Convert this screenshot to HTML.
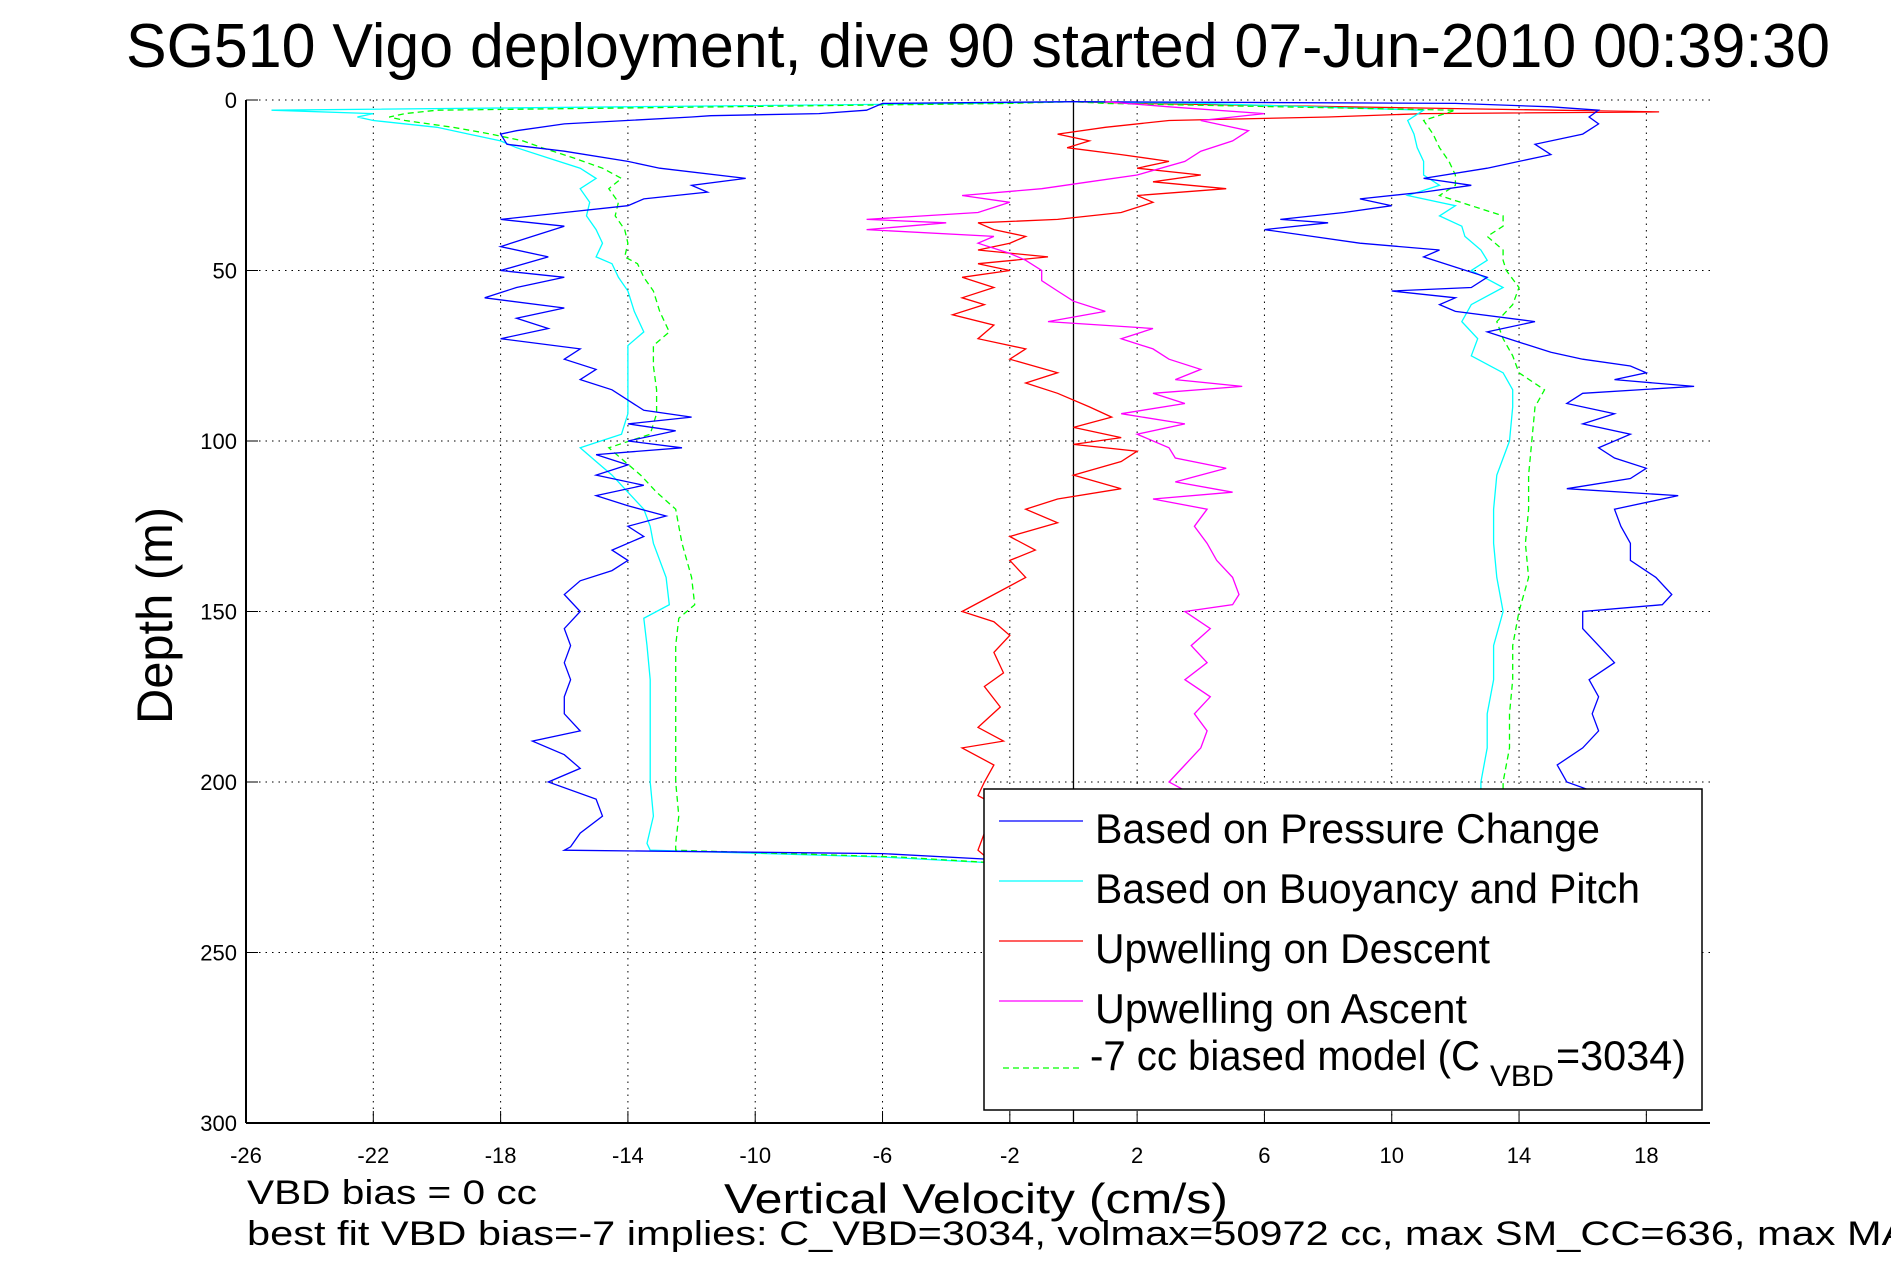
<!DOCTYPE html>
<html><head><meta charset="utf-8"><style>
html,body{margin:0;padding:0;background:#fff;}
svg{display:block;font-family:"Liberation Sans",sans-serif;}
</style></head>
<body>
<svg id="chart" width="1891" height="1262" viewBox="0 0 1891 1262" xmlns="http://www.w3.org/2000/svg">
<rect width="1891" height="1262" fill="#fff"/>
<text x="126" y="67" font-size="62" textLength="1704" lengthAdjust="spacingAndGlyphs">SG510 Vigo deployment, dive 90 started 07-Jun-2010 00:39:30</text>
<g id="grid"></g>
<g id="series" clip-path="url(#clip)"></g>
<defs><clipPath id="clip"><rect x="246" y="100" width="1464" height="1023"/></clipPath></defs>
<g id="axes"></g>
<text transform="translate(172,724) rotate(-90)" font-size="50" textLength="217" lengthAdjust="spacingAndGlyphs">Depth (m)</text>
<text x="724" y="1213" font-size="42" textLength="504" lengthAdjust="spacingAndGlyphs">Vertical Velocity (cm/s)</text>
<text x="247" y="1204" font-size="34" textLength="290" lengthAdjust="spacingAndGlyphs">VBD bias = 0 cc</text>
<text x="247" y="1245" font-size="34" textLength="1690" lengthAdjust="spacingAndGlyphs">best fit VBD bias=-7 implies: C_VBD=3034, volmax=50972 cc, max SM_CC=636, max MAX</text>
<g id="legend">
<rect x="984" y="789" width="718" height="321" fill="#fff" stroke="#000" stroke-width="1.5"/>
<line x1="999" y1="821" x2="1083" y2="821" stroke="#0000ff" stroke-width="1.3"/>
<text x="1095" y="843" font-size="42" textLength="505" lengthAdjust="spacingAndGlyphs">Based on Pressure Change</text>
<line x1="999" y1="881" x2="1083" y2="881" stroke="#00ffff" stroke-width="1.3"/>
<text x="1095" y="903" font-size="42" textLength="545" lengthAdjust="spacingAndGlyphs">Based on Buoyancy and Pitch</text>
<line x1="999" y1="941" x2="1083" y2="941" stroke="#ff0000" stroke-width="1.3"/>
<text x="1095" y="963" font-size="42" textLength="395" lengthAdjust="spacingAndGlyphs">Upwelling on Descent</text>
<line x1="999" y1="1001" x2="1083" y2="1001" stroke="#ff00ff" stroke-width="1.3"/>
<text x="1095" y="1023" font-size="42" textLength="372" lengthAdjust="spacingAndGlyphs">Upwelling on Ascent</text>
<line x1="1003" y1="1068" x2="1083" y2="1068" stroke="#00ff00" stroke-width="1.3" stroke-dasharray="6,4"/>
<text x="1090" y="1070" font-size="42" textLength="390" lengthAdjust="spacingAndGlyphs">-7 cc biased model (C</text>
<text x="1490" y="1086" font-size="30" textLength="64" lengthAdjust="spacingAndGlyphs">VBD</text>
<text x="1556" y="1070" font-size="42" textLength="130" lengthAdjust="spacingAndGlyphs">=3034)</text>
</g>
</svg>
<script>
const xTicks=[-26,-22,-18,-14,-10,-6,-2,2,6,10,14,18];
const yTicks=[0,50,100,150,200,250,300];
// series: descent (pressure based)
const descDepth=[0.5,1,3,4,4.6,5,7,9,10,13,15,18,20,23,25,27,29,31,33,35,37,40,43,46,50,52,55,58,61,64,67,70,73,76,79,82,85,88,91,93,95,97,100,102,104,107,110,113,116,119,122,125,128,132,135,138,141,145,150,155,160,165,170,175,180,185,188,192,196,200,205,210,215,219,220,221,223,225];
const descPressure=[0,-6,-6.5,-8,-11.4,-12,-16,-17.5,-18,-17.8,-16,-14,-13,-10.3,-12,-11.5,-13.5,-14,-16,-18,-16,-17,-18,-16.5,-18,-16,-17.5,-18.5,-16,-17.5,-16.5,-18,-15.5,-16,-15,-15.5,-14.5,-14,-13.5,-12,-14,-12.5,-14,-12.3,-15,-14,-15,-13.5,-15,-14,-12.8,-14,-13.5,-14.5,-14,-14.5,-15.5,-16,-15.5,-16,-15.8,-16,-15.8,-16,-16,-15.5,-17,-16,-15.5,-16.5,-15,-14.8,-15.5,-15.8,-16,-6,-2,-1];
const descBuoyDepth=[0.5,1,3,4,5,6,8,10,12,14,17,20,23,26,30,34,38,42,46,48,52,56,62,68,72,78,85,92,98,102,106,110,115,120,125,130,140,148,152,160,170,180,190,200,210,218,220,222,224];
const descBuoy=[0,-3,-25.2,-22,-22.5,-22,-20,-19,-18,-17.5,-16.5,-15.5,-15,-15.5,-15.2,-15.3,-15,-14.8,-15,-14.5,-14.3,-14,-13.8,-13.5,-14,-14,-14,-14,-14.2,-15.5,-15,-14.5,-14,-13.5,-13.3,-13.2,-12.8,-12.7,-13.5,-13.4,-13.3,-13.3,-13.3,-13.3,-13.2,-13.4,-13.3,-6,-2];
const descModel=[0,-2,-20,-21,-21.5,-21,-19.5,-18.3,-17.3,-16.7,-15.7,-14.8,-14.2,-14.6,-14.3,-14.4,-14.1,-14,-14.1,-13.7,-13.5,-13.2,-13,-12.7,-13.2,-13.2,-13.1,-13.1,-13.3,-14.6,-14.1,-13.6,-13.1,-12.5,-12.4,-12.3,-12,-11.9,-12.4,-12.5,-12.5,-12.5,-12.5,-12.5,-12.4,-12.5,-12.5,-5.5,-2];
const descUpDepth=[0.5,1,3.5,4,5,6,8,10,12,14,16,18,20,22,24,26,28,30,33,35,36,38,40,42,44,46,48,50,52,55,58,60,63,66,70,73,76,80,83,86,90,93,96,99,101,103,106,110,114,117,120,124,128,132,135,140,145,150,153,157,162,168,172,178,184,188,190,195,200,204,208,215,220,224];
const descUpwell=[0,2,18.4,11,8,3,1,-0.5,0.5,-0.2,1.5,3,2,4,2.5,4.8,2,2.5,1.5,-0.5,-3,-2.5,-1.5,-2,-3,-0.8,-3,-2,-3.5,-2.5,-3.5,-2.8,-3.8,-2.5,-3,-1.5,-2,-0.5,-1.5,-0.5,0.5,1.2,0,1.5,0,2,1.5,0,1.5,-0.5,-1.5,-0.5,-2,-1.2,-2,-1.5,-2.5,-3.5,-2.5,-2,-2.5,-2.2,-2.8,-2.3,-3,-2.2,-3.5,-2.5,-2.8,-3,-2.2,-2.8,-3,-2.5];
// series: ascent
const ascDepth=[205,200,195,190,185,180,175,170,165,160,155,150,148,145,140,135,130,125,120,116,114,111,108,105,102,98,95,92,89,86,84,82,80,78,76,74,71,68,65,62,60,58,56,55,52,49,46,44,42,40,38,36,35,33,31,29,27,25,23,20,18,16,13,10,7,5,3,2,1,0.5];
const ascPressure=[17,15.5,15.2,16,16.5,16.3,16.5,16.2,17,16.5,16,16,18.5,18.8,18.3,17.5,17.5,17.2,17,19,15.5,17.5,18,17,16.5,17.5,16,17,15.5,16,19.5,17,18,17.5,16,15,14,13,14.5,12,11.5,12,10,12.5,13,12,11,11.5,9,7.5,6,8,6.5,8.5,10,9,11,12.5,11,13,14,15,14.5,16,16.5,16.2,16.5,15,12,0];
const ascBuoyDepth=[205,200,190,180,170,160,150,140,130,120,110,100,90,85,80,75,70,65,60,55,50,47,44,40,37,34,31,28,25,22,18,14,10,6,3,1,0.5];
const ascBuoy=[12.8,12.8,13,13,13.2,13.2,13.5,13.3,13.2,13.2,13.3,13.7,13.8,13.8,13.5,12.5,12.7,12.2,12.5,13.5,12.5,13,12.8,12.3,12.2,11.5,12,10.5,11.5,11,11,10.8,10.7,10.5,11,4,0];
const ascModel=[13.5,13.5,13.7,13.7,13.8,13.8,14,14.3,14.2,14.3,14.3,14.4,14.5,14.8,14,13.8,13.5,13.3,13.8,14,13.6,13.5,13.5,13,13.5,13.5,12.5,11.5,12,12,11.8,11.5,11.3,11,12,1,0];
const ascUpDepth=[205,200,195,190,185,180,175,170,165,160,155,150,148,145,140,135,130,125,120,117,115,112,108,105,102,98,95,92,89,86,84,82,79,76,73,70,67,65,62,59,56,53,50,47,45,42,40,38,36,35,33,30,28,26,24,22,18,15,12,9,6,4,2,0.5];
const ascUpwell=[4,3,3.5,4,4.2,3.8,4.3,3.5,4.2,3.7,4.3,3.5,5,5.2,5,4.5,4.2,3.8,4.2,2.5,5,3.2,4.8,3.2,3,2,3.5,1.5,3.5,2.5,5.3,3.2,4,3,2.5,1.5,2.5,-0.8,1,0,-0.5,-1,-1,-1.5,-2,-3,-2.5,-6.5,-4,-6.5,-3,-2,-3.5,-1,0.5,2,3.5,4,5,5.5,4,6,3,1];

const NS='http://www.w3.org/2000/svg';
const X0=246,X1=1710,Y0=100,Y1=1123;
function xs(v){return X0+(v+26)/46*(X1-X0);}
function ys(d){return Y0+d/300*(Y1-Y0);}
function mk(tag,attrs,parent){const e=document.createElementNS(NS,tag);for(const k in attrs)e.setAttribute(k,attrs[k]);parent.appendChild(e);return e;}
const grid=document.getElementById('grid'),axes=document.getElementById('axes'),ser=document.getElementById('series');
xTicks.forEach(t=>{
  const l=mk('line',{x1:xs(t),x2:xs(t),y1:Y0,y2:Y1,stroke:'#000','stroke-width':1,'stroke-dasharray':'1.5,5'},grid);
  
  
  mk('line',{x1:xs(t),x2:xs(t),y1:Y1,y2:Y1-12,stroke:'#000','stroke-width':1},axes);
  const tx=mk('text',{x:xs(t),y:1163,'font-size':22,'text-anchor':'middle'},axes);
  tx.textContent=t;
  
  
});
yTicks.forEach(t=>{
  const l=mk('line',{x1:X0,x2:X1,y1:ys(t),y2:ys(t),stroke:'#000','stroke-width':1,'stroke-dasharray':'1.5,5'},grid);
  
  
  mk('line',{x1:X0,x2:X0+12,y1:ys(t),y2:ys(t),stroke:'#000','stroke-width':1},axes);
  const tx=mk('text',{x:237,y:ys(t)+8,'font-size':22,'text-anchor':'end'},axes);
  tx.textContent=t;
  
  
});
mk('line',{x1:X0,x2:X0,y1:Y0,y2:Y1,stroke:'#000','stroke-width':2},axes);
mk('line',{x1:X0,x2:X1,y1:Y1,y2:Y1,stroke:'#000','stroke-width':2},axes);
const zl=mk('line',{x1:xs(0),x2:xs(0),y1:Y0,y2:Y1,stroke:'#000','stroke-width':1.3},ser);


function line(depth,vals,color,name,dash){
  const pts=depth.map((d,i)=>xs(vals[i]).toFixed(1)+','+ys(d).toFixed(1)).join(' ');
  const p=mk('polyline',{points:pts,fill:'none',stroke:color,'stroke-width':1.3},ser);
  if(dash)p.setAttribute('stroke-dasharray','6,4');
  
  
}
line(descBuoyDepth,descBuoy,'#00ffff','descent-buoyancy-line');
line(descBuoyDepth,descModel,'#00ff00','descent-biased-model-line',true);
line(descDepth,descPressure,'#0000ff','descent-pressure-line');
line(descUpDepth,descUpwell,'#ff0000','upwelling-descent-line');
line(ascBuoyDepth,ascBuoy,'#00ffff','ascent-buoyancy-line');
line(ascBuoyDepth,ascModel,'#00ff00','ascent-biased-model-line',true);
line(ascDepth,ascPressure,'#0000ff','ascent-pressure-line');
line(ascUpDepth,ascUpwell,'#ff00ff','upwelling-ascent-line');
</script>
</body></html>
